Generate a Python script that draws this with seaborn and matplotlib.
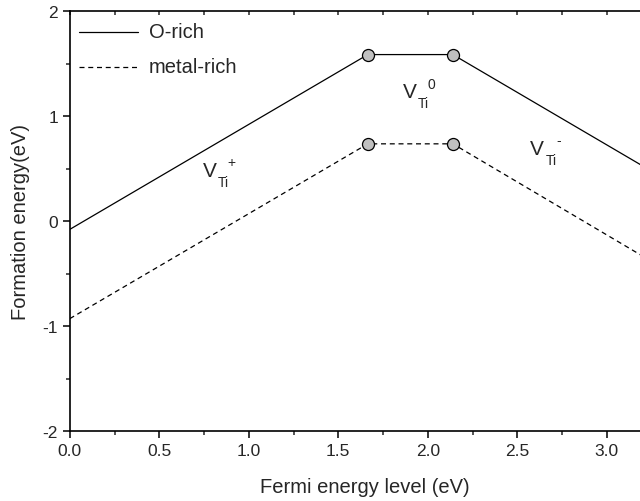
import matplotlib
matplotlib.use("Agg")
import matplotlib.pyplot as plt
from matplotlib.ticker import MultipleLocator, FormatStrFormatter
import seaborn as sns
import pandas as pd

# data
fermi = [0.0, 1.665, 2.14, 3.3]
o_rich = [-0.08, 1.585, 1.585, 0.425]
metal_rich = [-0.93, 0.735, 0.735, -0.435]
# transition levels (circles)
trans_x = [1.665, 2.14, 1.665, 2.14]
trans_y = [1.585, 1.585, 0.735, 0.735]
# charge state labels
state_x = [0.78, 1.9, 2.61]
state_y = [0.48, 1.23, 0.69]
state_sup = ["+", "0", "-"]

sns.set_style("ticks")
plt.rcParams["font.family"] = ["Liberation Sans", "DejaVu Sans"]
plt.rcParams["axes.unicode_minus"] = False

df = pd.DataFrame({"x": fermi + fermi,
                   "y": o_rich + metal_rich,
                   "cond": ["O-rich"] * 4 + ["metal-rich"] * 4})

fig = plt.figure(figsize=(6.4, 5.02), dpi=100)
ax = fig.add_axes([0.109, 0.1394, 0.923, 0.8367])

sns.lineplot(data=df, x="x", y="y", hue="cond", style="cond",
             palette={"O-rich": "black", "metal-rich": "black"},
             dashes={"O-rich": "", "metal-rich": (4, 3)},
             linewidth=0.9, sort=False, ax=ax, legend=False)
sns.scatterplot(x=trans_x, y=trans_y, color="#c0c0c0", edgecolor="black",
                linewidth=0.9, s=75, zorder=5, ax=ax)

# legend drawn by hand like the original
ax.plot([0.05, 0.38], [1.8, 1.8], color="black", lw=0.9)
ax.plot([0.05, 0.38], [1.47, 1.47], color="black", lw=0.9, dashes=(4, 3))
ax.text(0.44, 1.8, "O-rich", fontsize=14.5, va="center")
ax.text(0.44, 1.47, "metal-rich", fontsize=14.5, va="center")

for sx, sy, sup in zip(state_x, state_y, state_sup):
    ax.text(sx, sy, "V", fontsize=15, ha="center", va="center")
    ax.annotate("Ti", (sx, sy), xytext=(10, -8), textcoords="offset points",
                fontsize=10, ha="center", va="center")
    ax.annotate(sup, (sx, sy), xytext=(15.5, 6), textcoords="offset points",
                fontsize=10, ha="center", va="center")

ax.set_xlim(0, 3.3)
ax.set_ylim(-2, 2)
ax.xaxis.set_major_locator(MultipleLocator(0.5))
ax.xaxis.set_minor_locator(MultipleLocator(0.25))
ax.xaxis.set_major_formatter(FormatStrFormatter("%.1f"))
ax.yaxis.set_major_locator(MultipleLocator(1))
ax.yaxis.set_minor_locator(MultipleLocator(0.5))
ax.tick_params(which="major", direction="out", length=5, width=1.1,
               labelsize=12.5, color="black")
ax.tick_params(which="minor", direction="out", length=3, width=1.1)

top = ax.secondary_xaxis("top")
top.xaxis.set_major_locator(MultipleLocator(0.25))
top.tick_params(direction="in", length=3, width=1.1, labeltop=False)

for side in ["left", "bottom", "top", "right"]:
    ax.spines[side].set_linewidth(1.2)
    ax.spines[side].set_color("black")
top.spines["top"].set_visible(False)

ax.set_xlabel("Fermi energy level (eV)", fontsize=14.5, labelpad=14)
ax.set_ylabel("Formation energy(eV)", fontsize=14.5, labelpad=9)

fig.savefig("out.png", dpi=100)
